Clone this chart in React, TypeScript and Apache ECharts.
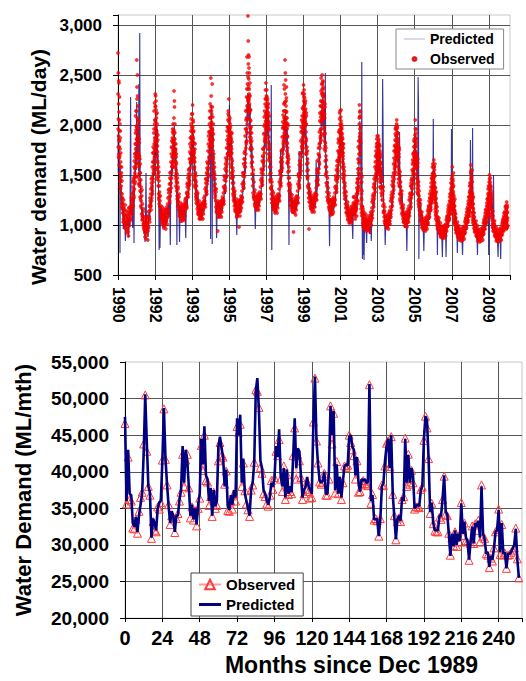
import React, { useEffect, useRef } from "react";
import * as echarts from "echarts";

// ---------- Top panel: daily water demand (values in units of 10 ML/day), one string per year, months separated by "|"
const FIRST_YEAR = 1990;
const dailyObserved: string[] = [
  "272 196 252 168 221 185 242 160 205 178|184 152 176 138 194 145 163 132|148 126 158 118 131 122|112 121 106 117|104 115 99 108|101 110 92 106|106 96 113 89|109 101 116 104|113 106 119 124|117 131 121 138 119|134 147 127 164 141 152|156 181 143 209 172 162 195 148 186",
  "198 265 171 226 185 250 162 205 219 176|178 148 196 141 166 158 182 139|141 166 128 152 119 133|124 111 135 108|106 113 98 102|95 104 88 101|99 86 104 93|102 85 109 97|108 119 103 124|121 136 115 142 127|139 158 131 172 146 152|163 192 151 214 176 168 201 158 184",
  "205 231 182 219 168 196 224 175 211 188|194 157 212 146 173 164 185 151|139 158 127 144 121 133|118 129 111 109|112 104 118 107|102 110 97 113|108 99 115 104|111 104 118 107|116 127 109 132|128 141 122 152 133|146 163 137 178 152 158|168 187 158 196 174 182 161 191 171",
  "195 172 234 158 186 218 176 192 164 181|168 149 176 139 163 155 171 143|134 151 126 142 119 138|124 115 131 112|116 109 122 106|111 118 104 109|113 106 121 117|118 109 126 122|121 132 117 138|133 147 128 155 139|148 166 141 181 157 163|171 194 162 206 183 176 198 167 188",
  "196 176 220 164 188 205 171 193 182 168|171 148 182 139 158 163 176 145|137 152 128 143 122 134|126 116 132 113|118 110 124 107|112 119 106 110|115 107 122 118|119 111 127 124|124 136 118 142|138 152 131 163 144|155 174 148 189 162 168|178 201 168 214 186 193 172 207 184",
  "247 194 218 176 203 188 211 182 197 241|186 163 208 152 174 168 191 157|146 162 134 151 127 141|129 118 136 115|121 112 94 116|114 121 108 111|117 109 124 119|120 113 128 125|126 138 121 145|139 156 134 167 148|158 177 149 194 166 171|181 205 172 214 193 186 209 177 198",
  "205 183 196 169 188 201 176 193 172 185|178 158 191 147 166 172 183 152|142 157 131 148 125 137|127 119 134 116|120 113 126 110|115 122 109 112|118 98 125 113|122 114 129 117|128 141 123 149|143 161 137 172 152|166 189 158 214 177 183|196 228 184 268 215 206 241 192 224",
  "309 236 284 218 270 246 226 268 231 252|221 188 242 176 205 196 215 182|176 198 162 184 151 168|146 132 155 127|128 121 135 118|121 128 115 119|124 116 131 127|126 119 133 129|131 145 126 152|147 164 140 176 155|168 191 159 208 178 184|192 221 183 235 204 197 226 186 212",
  "229 208 235 191 214 221 198 226 203 217|204 176 221 165 188 196 181 209|158 176 145 163 137 152|136 126 143 122|126 118 132 115|119 126 112 116|122 114 129 125|124 117 131 128|130 143 124 151|146 163 139 174 154|167 188 157 203 176 181|189 214 178 240 201 196 222 184 208",
  "265 201 252 188 245 213 196 224 207 238|213 174 196 162 182 188 171 201|153 169 141 158 134 147|133 124 140 120|124 116 130 113|117 124 93 114|120 112 127 123|122 115 129 126|128 141 122 148|144 160 137 171 151|164 184 154 198 172 178|186 209 176 232 197 191 216 181 203",
  "240 212 228 196 219 231 204 222 199 215|207 183 224 171 193 201 186 212|161 178 148 166 139 155|137 127 96 132|127 119 133 116|120 127 113 117|123 115 130 126|125 118 132 129|131 144 125 152|147 165 140 177 156|170 193 161 212 182 187|196 224 185 247 211 204 231 191 218",
  "250 223 241 204 232 244 213 236 209 228|216 189 229 176 198 207 192 221|164 182 151 169 142 158|139 128 147 125|126 118 132 115|117 124 110 113|119 111 126 122|121 113 128 124|126 138 120 145|139 155 133 164 146|156 174 148 186 163 168|174 195 165 212 184 178 201 169 189",
  "208 185 215 172 192 201 179 196 176 188|179 158 186 147 166 172 161 181|143 158 132 149 126 139|126 117 133 113|117 109 123 105|109 116 102 107|111 103 118 114|113 105 119 116|117 128 111 121|112 121 106 128 115|118 131 109 142 124 135|133 156 124 178 146 162 139 171 151",
  "201 220 176 208 163 192 214 171 186 198|142 121 156 112 131 125 148 118|109 118 102 114 98 106|106 99 112 103|104 97 110 101|100 107 95 104|103 96 109 100|107 101 113 104|112 123 107 129|124 138 118 146 129|141 158 133 169 147 152|159 178 149 186 164 171 155 182 166",
  "178 162 189 151 172 184 158 176 166 181|168 146 179 138 157 162 151 171|152 136 161 129 144 139|131 119 138 114|112 104 118 101|103 109 97 100|105 98 111 102|108 101 114 104|113 124 108 130|126 140 119 148 131|143 161 135 174 150 156|164 185 153 196 171 178 159 189 168",
  "196 178 205 164 187 199 172 191 181 168|173 151 184 142 162 168 155 177|146 131 153 124 138 134|128 117 134 112|114 106 120 103|105 111 99 102|107 100 113 104|110 103 116 106|114 125 109 131|125 139 118 145 130|139 155 131 165 145 151|155 172 146 184 161 168 151 179 163",
  "190 168 205 157 178 186 163 196 171 182|162 141 171 133 151 158 146 166|136 124 143 118 129 125|119 110 125 106|108 101 113 98|101 106 95 98|102 96 107 99|103 97 108 100|106 114 101 119|113 124 108 131 117|121 134 115 142 126 131|129 146 122 158 136 149 127 152 139",
  "152 134 165 126 143 158 131 149 138 161|129 116 137 110 122 126 119 133|112 104 118 99 108 103|102 96 107 93|97 91 102 89|93 98 88 91|94 89 99 92|95 90 100 93|98 105 94 109|104 113 99 119 107|110 121 105 128 114 118|117 131 111 142 123 134 115 138 126",
  "141 127 158 119 134 146 124 138 131 152|122 110 129 104 115 119 112 126|106 99 111 95 102 98|98 93 103 90|94 89 99 87|91 96 86 89|92 87 97 90|93 88 98 91|96 103 92 107|102 110 97 116 105|108 118 103 124 112 115|115 128 109 139 121 132 113 135 124",
  "152 128 160 120 139 147 126 143 133 155|124 111 131 105 117 121 113 128|107 100 112 96 103 99|99 93 104 90|94 88 99 86|90 95 85 88|91 86 96 89|92 87 97 90|95 102 91 106|101 109 96 115 104|107 116 102 122 110 113|114 126 108 136 119 129 111 132 121",
  "143 126 150 118 132 139 122 147 128 136|138 116 129 108 121 125 112 131|109 101 114 97 104 100|99 93 104 90|94 88 98 86|90 95 85 88|91 86 96 89|92 87 97 90|94 101 90 105|99 107 94 112 102|103 112 97 118 106 109|104 116 96 123 101 112 98 118 107",
];
// second set of daily readings (the days between the first set)
const dailyObservedB: string[] = [
  "231 178 206 189 244 171 213 194 167 228|169 201 143 187 158 136 172 149|139 152 121 144 116 127|118 103 125 109|111 97 120 103|97 114 103 95|110 101 93 117|99 112 106 118|118 109 127 115|126 112 143 124 132|145 129 158 136 171 149|168 149 192 176 158 214 181 167 199",
  "214 182 238 193 207 171 229 189 201 168|189 161 172 204 151 186 145 169|152 134 161 126 145 138|117 129 105 121|109 101 116 96|101 92 108 97|94 107 90 101|108 94 99 113|114 106 127 118|131 119 146 124 137|148 134 163 143 178 155|172 159 196 181 166 222 187 174 205",
  "218 186 204 229 177 198 215 183 207 192|183 169 201 155 179 162 190 148|148 131 153 125 139 129|124 114 119 106|106 115 101 111|108 99 104 116|102 112 107 96|106 115 101 112|121 112 135 114|136 124 147 129 141|153 142 171 147 184 159|177 162 193 183 169 201 178 186 164",
  "184 207 168 193 224 171 186 201 175 163|174 158 181 146 168 152 161 137|143 129 147 123 136 128|119 128 109 117|113 119 104 110|116 107 112 120|109 118 114 105|113 124 116 119|127 119 141 131|142 131 151 136 145|156 144 173 151 187 162|178 166 201 188 172 211 186 193 176",
  "189 211 172 198 181 164 203 186 175 194|164 156 173 145 167 151 181 141|145 131 149 125 139 128|121 131 111 118|114 121 106 112|117 109 114 121|111 119 116 106|115 123 118 121|129 121 146 133|146 134 157 141 151|161 151 181 157 193 166|185 173 207 193 179 221 191 198 181",
  "208 186 229 195 214 179 201 192 184 218|179 195 158 185 166 201 149 171|154 139 158 131 146 136|124 133 113 121|117 124 108 115|118 111 116 123|113 121 118 108|117 125 120 123|132 124 149 136|148 137 161 144 154|164 154 185 161 198 171|189 177 211 198 183 226 196 203 186",
  "196 178 191 207 174 183 198 169 188 179|171 186 152 176 161 192 147 164|149 136 154 129 142 133|123 131 114 120|116 123 108 114|119 112 117 124|114 122 119 109|118 126 121 124|134 127 152 138|152 141 166 148 158|174 162 196 171 205 181|207 193 236 219 201 252 214 227 208",
  "248 226 261 213 239 224 257 219 236 229|212 198 229 184 215 192 204 178|187 169 192 158 176 163|139 151 129 143|125 132 119 128|125 118 122 129|120 128 125 115|123 130 126 128|138 131 156 142|155 144 169 151 162|176 164 199 172 214 186|201 188 226 211 195 242 209 218 203",
  "219 201 228 206 224 196 213 209 218 199|197 183 212 171 195 179 202 168|167 151 171 143 158 146|131 139 122 134|122 129 116 125|122 115 119 126|118 125 121 112|121 128 124 126|136 129 154 140|153 142 167 149 160|175 163 197 171 210 183|198 185 221 207 192 236 205 214 199",
  "223 199 231 206 214 192 219 203 227 201|196 181 207 168 189 177 199 164|162 147 166 139 154 142|128 137 119 131|120 127 114 123|120 113 117 124|116 123 119 110|119 126 122 124|134 127 151 138|151 140 164 147 157|172 160 193 168 205 179|194 182 217 203 188 231 201 209 195",
  "224 206 219 235 201 214 227 209 221 204|199 188 216 177 201 184 209 173|171 154 174 146 162 149|132 141 123 136|123 130 117 126|123 116 120 127|119 126 122 113|122 129 125 127|137 130 155 141|156 145 171 152 163|181 168 204 177 219 189|208 195 234 219 202 241 213 224 206",
  "236 214 229 243 208 222 238 216 231 211|207 196 224 184 211 191 218 179|174 158 177 149 165 153|133 142 124 137|122 129 116 125|121 114 118 125|116 123 119 111|118 125 121 123|132 125 149 136|147 137 159 143 152|165 154 182 160 193 171|184 172 206 193 178 214 191 199 183",
  "196 177 204 183 192 169 198 186 174 191|172 163 181 151 169 156 177 146|151 137 154 129 142 134|121 129 112 119|113 120 106 112|112 105 109 114|107 114 110 102|109 116 112 114|122 115 128 119|117 109 124 113 121|126 116 137 121 146 131|143 134 166 152 138 184 156 165 147",
  "207 188 213 179 196 184 209 175 191 182|136 116 151 127 143 119 134 109|113 105 116 101 110 97|102 109 96 105|100 106 94 103|103 97 101 96|99 105 102 93|104 110 106 100|117 110 126 114|131 121 141 126 136|149 137 163 144 174 155|168 156 181 171 159 189 174 178 162",
  "171 182 159 176 167 186 154 173 179 162|161 153 174 143 163 149 168 138|144 132 156 137 148 125|125 134 113 121|108 114 102 109|106 101 104 98|101 108 104 96|104 111 107 101|118 111 127 115|133 123 144 128 138|152 139 167 146 179 158|174 161 191 180 166 198 176 184 169",
  "189 201 176 193 183 171 197 186 178 192|167 158 179 146 171 153 175 139|139 126 149 131 143 121|123 131 111 118|109 117 103 111|108 102 105 99|103 110 106 98|106 113 109 103|119 112 128 116|132 122 142 127 137|147 136 161 141 171 153|163 152 178 169 157 186 166 174 159",
  "183 174 196 165 187 171 192 179 168 186|156 147 166 137 159 143 162 131|131 121 139 126 134 115|114 121 104 112|104 109 97 103|103 97 100 95|98 104 101 94|99 105 102 96|110 103 116 107|118 111 127 114 122|127 118 138 124 147 131|138 129 151 144 133 161 141 147 136",
  "146 139 158 129 151 136 155 142 133 149|124 113 131 106 127 118 121 109|108 101 114 96 105 99|99 104 92 97|94 99 88 93|96 90 93 87|91 97 93 87|92 98 94 89|101 96 107 99|108 102 116 105 111|115 107 124 112 131 119|124 116 136 129 119 146 127 133 121",
  "136 129 149 122 141 127 144 133 124 139|117 107 124 101 119 111 114 103|102 96 107 92 99 94|95 100 88 93|91 96 85 90|93 88 91 84|89 94 91 85|90 95 92 86|99 94 105 97|106 100 113 103 109|113 105 121 109 128 116|121 113 133 126 117 142 124 130 119",
  "141 133 154 126 146 131 149 137 128 143|119 108 126 102 121 113 116 104|103 97 108 93 100 95|96 101 89 94|91 96 84 90|92 87 90 83|88 93 90 84|89 94 91 85|98 93 104 96|105 99 112 102 108|112 104 119 108 126 114|119 112 131 124 115 139 122 127 117",
  "137 129 146 121 141 126 143 132 124 139|126 119 134 111 127 115 122 106|104 98 109 94 101 96|96 101 89 94|91 96 84 90|92 87 90 83|88 93 90 84|89 94 91 85|97 92 103 95|102 96 109 99 105|107 100 114 103 119 109|109 101 117 106 97 120 104 113 99",
];
const dailyPredicted: string[] = [
  "190 152 205 168 176 148|163 72 158 141 132|138 121 129 115|112 96 118|106 101 84|104 95 109|99 108 88|106 98 112|228 110 117|121 97 132|138 82 151 143|162 148 178 155 171",
  "223 164 188 172 196 181|176 154 241 148 162|292 139 146 124|121 108 116|104 111 92|98 83 102|152 94 104|99 88 106|112 104 118|124 118 133|141 129 152 146|158 171 149 182 166",
  "198 176 212 168 189 205|184 162 196 151 171|142 131 75 123|77 112 119|108 116 102|106 98 111|104 112 99|109 102 117|113 121 108|126 118 80|146 132 158 149|168 152 181 163 176",
  "192 169 199 176 184 163|166 148 174 141 158|80 138 126 131|121 112 83|115 108 118|110 116 104|114 107 119|116 109 87|122 131 117|134 127 143|149 138 162 153|172 158 188 169 181",
  "195 176 186 168 191 178|169 151 177 143 159|138 127 145 131|124 116 130|117 110 121|113 105 118|116 108 121|118 112 125|125 119 133|139 129 147|156 143 168 160|179 164 193 176 86",
  "201 184 220 176 193 81|183 161 197 156 172|147 134 154 138|128 118 87|119 112 124|115 107 119|117 110 122|120 114 126|127 121 136|141 131 150|159 146 171 162|183 168 197 179 191",
  "220 186 199 173 190 182|179 159 188 151 168|144 132 151 136|126 119 131|119 113 90|116 109 121|118 111 124|121 114 127|129 123 138|146 135 157|168 153 184 174|196 182 221 203 232",
  "230 212 226 204 218 196|208 184 221 173 196|172 158 181 164|144 133 151|127 120 96|121 115 126|123 117 129|125 119 131|133 126 141|148 138 159|169 155 184 176|192 178 211 196 205",
  "214 196 221 189 207 201|198 174 211 166 185|156 143 164 148|240 75 139|124 117 129|118 112 123|121 114 126|123 117 129|131 124 138|175 139 158|166 152 181 172|189 174 206 192 201",
  "200 186 213 178 196 190|187 166 196 159 176|151 139 80 143|131 124 136|122 116 127|117 111 122|119 113 125|121 115 127|128 121 136|174 136 156|163 149 177 168|185 171 201 188 197",
  "212 194 224 188 206 199|201 178 214 169 189|159 146 167 151|135 127 141|126 119 131|120 113 125|122 116 128|124 117 130|165 125 139|149 139 161|171 156 187 178|196 181 214 199 208",
  "221 204 232 196 214 208|209 186 221 177 197|252 150 170 155|137 129 144|125 118 79|116 110 121|118 112 123|120 114 125|126 120 133|140 131 149|157 145 170 162|175 163 189 178 184",
  "192 176 201 168 185 179|176 158 183 149 166|142 131 148 135|125 117 130|115 108 120|108 101 112|109 103 114|111 104 86|116 109 121|118 109 124|124 114 133 126|142 131 158 147 163",
  "192 174 204 168 186 178|141 122 148 263 129|66 108 70 112|65 102 108|103 97 82|100 94 104|102 96 91|105 99 84|112 106 119|124 117 133|141 130 152 144|158 146 171 162 168",
  "171 158 179 151 168 162|164 148 172 141 156|149 137 155 142|246 185 121|110 104 80|101 96 105|103 97 108|105 99 110|112 106 118|125 117 133|143 131 153 146|163 151 174 166 171",
  "186 171 195 164 179 174|172 155 179 147 163|193 135 151 139|126 117 131|112 106 117|103 97 107|105 99 74|107 101 112|113 107 119|124 117 132|138 129 147 141|154 144 166 157 162",
  "181 166 191 159 175 170|159 144 166 138 152|248 223 66 131|118 110 123|106 100 111|99 94 74|100 95 105|101 96 106|105 99 111|112 105 119|121 113 128 123|129 122 139 133 206",
  "146 134 156 128 141 137|128 118 134 112 123|111 104 70 107|101 95 105|96 91 100|92 87 68|93 88 97|94 89 98|68 97 103|103 97 109|109 103 116 111|116 110 124 196 120",
  "139 127 148 121 134 131|121 112 126 106 116|105 99 109 101|97 72 100|93 88 97|90 85 94|91 86 70|92 87 96|95 90 101|101 95 107|107 101 113 109|114 108 121 117 185",
  "145 129 152 122 137 132|123 197 128 107 117|106 100 110 102|98 93 102|93 70 97|89 85 93|90 86 94|91 87 95|94 89 100|100 95 106|106 100 112 108|113 107 119 70 116",
  "139 124 146 119 131 127|131 117 126 109 120|108 101 112 150|98 93 102|93 88 97|89 84 68|90 86 94|91 66 95|93 89 99|98 93 103|102 96 108 104|103 97 110 100 118",
];
const topXTickLabels = ["1990", "1992", "1993", "1995", "1997", "1999", "2001", "2003", "2005", "2007", "2009"];

// ---------- Bottom panel: monthly water demand, thousand ML/month, index = months since Dec 1989
const monthlyObserved: number[] = [
  46.6, 35.6, 42.0, 36.2, 36.0, 32.3, 32.2, 33.5, 31.6, 34.6,
  36.5, 37.2, 43.8, 50.5, 42.8, 38.0, 36.8, 30.9, 33.2, 32.0,
  31.8, 35.2, 34.9, 35.8, 41.6, 48.6, 41.7, 38.2, 35.5, 32.8,
  34.0, 33.8, 31.7, 33.6, 34.3, 36.0, 37.2, 42.4, 38.0, 41.6,
  42.4, 37.8, 33.7, 35.2, 33.4, 34.7, 32.6, 35.0, 36.4, 43.6,
  40.2, 45.0, 38.8, 38.6, 35.4, 36.6, 33.9, 37.2, 35.0, 35.4,
  41.5, 44.0, 42.2, 42.0, 38.3, 40.1, 34.7, 34.6, 36.0, 34.9,
  37.0, 36.0, 46.2, 45.4, 46.5, 38.0, 41.2, 37.4, 35.6, 34.8,
  33.9, 37.5, 38.2, 41.3, 51.2, 51.0, 48.8, 40.6, 39.8, 37.0,
  36.6, 35.6, 35.3, 36.8, 38.8, 37.6, 39.2, 42.8, 42.2, 44.4,
  39.0, 37.3, 40.8, 36.2, 39.6, 36.9, 37.3, 37.0, 42.2, 46.0,
  39.0, 42.3, 41.5, 39.2, 36.2, 37.0, 37.6, 38.6, 37.3, 36.4,
  36.5, 46.8, 52.8, 44.2, 41.2, 38.6, 38.3, 38.5, 39.8, 36.8,
  36.8, 39.0, 49.0, 43.8, 48.0, 37.1, 41.4, 37.0, 38.8, 36.2,
  38.5, 40.8, 40.6, 40.9, 45.0, 44.0, 43.0, 42.2, 39.0, 41.5,
  37.2, 37.3, 38.6, 38.8, 38.4, 38.2, 38.1, 51.9, 35.7, 36.9,
  33.4, 33.6, 33.3, 31.2, 33.6, 38.2, 38.1, 40.8, 43.9, 44.2,
  40.7, 44.8, 36.9, 34.0, 30.7, 33.2, 33.7, 33.2, 36.2, 36.6,
  44.6, 38.0, 42.4, 38.3, 40.2, 38.5, 34.9, 35.2, 35.2, 35.1,
  37.6, 37.9, 44.3, 47.6, 46.0, 41.8, 34.3, 35.7, 32.9, 31.9,
  31.8, 31.8, 33.8, 33.5, 36.2, 39.4, 34.2, 34.0, 31.6, 28.6,
  31.0, 29.9, 31.8, 29.8, 31.2, 30.4, 35.8, 31.3, 33.0, 30.6,
  30.4, 27.9, 30.2, 32.6, 30.2, 32.9, 32.0, 33.4, 30.4, 38.2,
  31.2, 30.9, 28.8, 28.6, 26.9, 28.2, 27.8, 29.6, 31.8, 32.1,
  34.9, 28.7, 32.8, 28.6, 28.9, 26.8, 28.6, 28.7, 29.0, 29.3,
  29.6, 32.3, 28.1, 25.5,
];
const monthlyPredicted: number[] = [
  47.5, 36.0, 43.0, 37.0, 36.8, 33.0, 32.5, 33.8, 31.8, 34.0,
  35.5, 37.0, 42.5, 50.6, 44.0, 38.0, 37.2, 31.0, 33.6, 33.0,
  32.0, 35.0, 35.8, 36.0, 41.5, 48.7, 41.8, 38.3, 35.3, 33.0,
  34.6, 34.0, 31.8, 34.0, 34.0, 36.2, 37.5, 43.5, 38.5, 43.0,
  41.5, 38.0, 34.0, 35.5, 33.5, 35.0, 32.8, 35.5, 37.0, 44.5,
  41.0, 46.2, 39.5, 39.0, 36.0, 37.8, 34.0, 37.5, 35.3, 36.0,
  43.5, 44.8, 43.3, 42.0, 38.0, 40.3, 35.3, 34.8, 36.8, 35.5,
  37.5, 36.5, 47.3, 45.0, 47.8, 38.5, 41.8, 37.0, 36.0, 35.0,
  34.0, 37.5, 38.5, 41.2, 51.0, 52.8, 48.5, 41.5, 40.5, 37.5,
  37.0, 36.2, 35.5, 36.5, 38.5, 38.0, 39.0, 43.5, 42.0, 45.8,
  39.5, 38.0, 40.5, 36.5, 40.3, 37.0, 38.0, 37.2, 42.0, 47.3,
  40.5, 43.2, 42.8, 39.5, 36.5, 37.5, 38.0, 39.3, 38.0, 37.5,
  37.0, 46.8, 53.0, 44.2, 41.0, 38.8, 38.5, 38.8, 40.0, 37.0,
  37.0, 40.0, 49.0, 45.0, 48.3, 37.5, 41.0, 37.0, 39.3, 36.5,
  38.8, 40.8, 41.0, 40.8, 44.8, 45.0, 43.5, 43.0, 39.5, 42.0,
  38.5, 37.3, 39.0, 38.8, 39.0, 38.5, 38.6, 52.0, 36.0, 36.8,
  33.5, 33.5, 33.5, 31.2, 33.5, 38.0, 38.5, 41.5, 43.5, 44.5,
  40.5, 45.0, 36.8, 33.8, 30.8, 33.5, 34.0, 33.3, 36.5, 36.0,
  44.5, 38.5, 42.3, 38.5, 40.5, 39.5, 35.0, 35.3, 35.5, 35.3,
  37.5, 38.0, 44.5, 47.6, 47.0, 41.8, 34.5, 35.8, 33.0, 32.0,
  32.0, 32.0, 34.0, 34.0, 36.3, 39.5, 34.5, 34.2, 31.5, 28.5,
  31.5, 29.8, 32.0, 30.0, 31.5, 30.5, 35.7, 31.5, 33.2, 31.0,
  30.5, 28.0, 30.5, 32.5, 30.2, 33.0, 32.5, 33.3, 31.0, 38.0,
  31.5, 30.8, 28.8, 29.0, 27.0, 28.5, 28.0, 29.5, 31.8, 32.0,
  34.8, 29.0, 33.0, 28.8, 29.0, 26.8, 28.8, 28.8, 29.0, 29.5,
  30.0, 32.2, 28.0, 25.5,
];

const FONT = "'Liberation Sans', Arial, Helvetica, sans-serif";
const DAY_MS = 86400000;
const EPOCH = Date.UTC(FIRST_YEAR, 0, 1);

// spread each month's readings evenly over that month's days (offset = position inside each slot)
function expandDaily(years: string[], offset: number): [number, number][] {
  const out: [number, number][] = [];
  years.forEach((ys, k) => {
    const y = FIRST_YEAR + k;
    ys.split("|").forEach((grp, mo) => {
      const vals = grp.trim().split(/\s+/).filter(Boolean).map(Number);
      const s = (Date.UTC(y, mo, 1) - EPOCH) / DAY_MS;
      const e = (Date.UTC(y, mo + 1, 1) - EPOCH) / DAY_MS;
      vals.forEach((v, j) => out.push([s + ((j + offset) * (e - s)) / vals.length, v * 10]));
    });
  });
  return out;
}

const fmt = (v: number) => v.toLocaleString("en-US");

export default function App() {
  const topRef = useRef<HTMLDivElement>(null);
  const botRef = useRef<HTMLDivElement>(null);

  useEffect(() => {
    const top = echarts.init(topRef.current!, null, { renderer: "svg" });
    const bot = echarts.init(botRef.current!, null, { renderer: "svg" });

    const gridLine = { color: "#555", width: 1 };
    const axisLine = { show: true, lineStyle: { color: "#000", width: 1 } };
    const observedTop = expandDaily(dailyObserved, 0.25).concat(expandDaily(dailyObservedB, 0.75));

    top.setOption({
      animation: false,
      textStyle: { fontFamily: FONT },
      grid: { left: 118, top: 15, width: 392, height: 260, show: true, borderColor: "#c8c8c8", borderWidth: 1, backgroundColor: "#fff" },
      legend: {
        orient: "vertical", left: 396, top: 29, padding: [3, 9, 3, 8], itemGap: 6,
        itemWidth: 21, itemHeight: 4, backgroundColor: "#fff", borderColor: "#888", borderWidth: 1,
        textStyle: { fontFamily: FONT, fontSize: 14, fontWeight: "bold", color: "#000" },
        data: [
          { name: "Predicted", icon: "path://M0,0H40V1H0Z", itemStyle: { color: "#6c6cbc" } },
          { name: "Observed", icon: "circle" },
        ],
      },
      xAxis: {
        type: "value", min: 0, max: 7716, interval: 730,
        axisLine, axisTick: { show: true, length: 5, lineStyle: { color: "#000" } },
        axisLabel: {
          rotate: -90, margin: 12, fontSize: 16, fontWeight: "bold", color: "#000", fontFamily: FONT,
          formatter: (v: number) => (v % 730 === 0 ? topXTickLabels[Math.round(v / 730)] ?? "" : ""),
        },
        splitLine: { show: true, showMaxLine: false, lineStyle: gridLine },
      },
      yAxis: {
        type: "value", min: 500, max: 3100, interval: 500,
        name: "Water demand (ML/day)", nameLocation: "middle", nameRotate: 90, nameGap: 69,
        nameTextStyle: { fontSize: 21, fontWeight: "bold", color: "#000", fontFamily: FONT, padding: [0, 44, 0, 0] },
        axisLine, axisTick: { show: true, length: 5, lineStyle: { color: "#000" } },
        axisLabel: {
          margin: 16, fontSize: 17, fontWeight: "bold", color: "#000", fontFamily: FONT,
          formatter: (v: number) => (v > 3000 ? "" : fmt(v)),
        },
        splitLine: { show: true, showMaxLine: false, lineStyle: gridLine },
      },
      series: [
        {
          name: "Predicted", type: "line", data: expandDaily(dailyPredicted, 0.5), symbol: "none", showSymbol: false,
          lineStyle: { color: "#16168a", width: 1.15, opacity: 0.85 }, itemStyle: { color: "#16168a" }, z: 2,
        },
        {
          name: "Observed", type: "scatter", data: observedTop, symbol: "circle", symbolSize: 3.4,
          itemStyle: { color: "#ff0000", borderColor: "#d40000", borderWidth: 0.3 }, z: 3,
        },
      ],
    });

    bot.setOption({
      animation: false,
      textStyle: { fontFamily: FONT },
      grid: { left: 125, top: 32, width: 397, height: 264, show: true, borderColor: "#c8c8c8", borderWidth: 1, backgroundColor: "#fff" },
      legend: {
        orient: "vertical", left: 191, top: 243, padding: [4, 8, 4, 7], itemGap: 5,
        itemWidth: 22, itemHeight: 12, backgroundColor: "#fff", borderColor: "#444", borderWidth: 1,
        textStyle: { fontFamily: FONT, fontSize: 15, fontWeight: "bold", color: "#000" },
        data: [
          { name: "Observed" },
          { name: "Predicted", icon: "path://M0,0H22V3H0Z", itemStyle: { color: "#000080" } },
        ],
      },
      xAxis: {
        type: "value", min: 0, max: 255, interval: 24,
        name: "Months since Dec 1989", nameLocation: "middle", nameGap: 34,
        nameTextStyle: { fontSize: 23, fontWeight: "bold", color: "#000", fontFamily: FONT, padding: [0, 0, 0, 56] },
        axisLine, axisTick: { show: true, length: 4, lineStyle: { color: "#000" } },
        axisLabel: {
          margin: 10, fontSize: 20, fontWeight: "bold", color: "#000", fontFamily: FONT,
          formatter: (v: number) => (v % 24 === 0 ? String(v) : ""),
        },
        splitLine: { show: true, showMaxLine: false, lineStyle: gridLine },
      },
      yAxis: {
        type: "value", min: 20000, max: 55000, interval: 5000,
        name: "Water Demand (ML/mth)", nameLocation: "middle", nameRotate: 90, nameGap: 91,
        nameTextStyle: { fontSize: 22, fontWeight: "bold", color: "#000", fontFamily: FONT },
        axisLine, axisTick: { show: true, length: 5, lineStyle: { color: "#000" } },
        axisLabel: { margin: 16, fontSize: 19, fontWeight: "bold", color: "#000", fontFamily: FONT, formatter: fmt },
        splitLine: { show: true, showMaxLine: false, lineStyle: gridLine },
      },
      series: [
        {
          name: "Observed", type: "line", data: monthlyObserved.map((v, i) => [i, v * 1000]),
          symbol: "triangle", symbolSize: 8, showAllSymbol: true,
          lineStyle: { color: "#ff9a9a", width: 1 },
          itemStyle: { color: "rgba(255,255,255,0)", borderColor: "#ff3b3b", borderWidth: 1 }, z: 2,
        },
        {
          name: "Predicted", type: "line", data: monthlyPredicted.map((v, i) => [i, v * 1000]),
          symbol: "none", showSymbol: false,
          lineStyle: { color: "#000080", width: 2.6 }, itemStyle: { color: "#000080" }, z: 3,
        },
      ],
    });

    return () => {
      top.dispose();
      bot.dispose();
    };
  }, []);

  return (
    <div style={{ position: "absolute", left: 0, top: 0, width: 526, height: 681, background: "#fff" }}>
      <div ref={topRef} style={{ position: "absolute", left: 0, top: 0, width: 526, height: 330 }} />
      <div ref={botRef} style={{ position: "absolute", left: 0, top: 330, width: 526, height: 351 }} />
    </div>
  );
}
